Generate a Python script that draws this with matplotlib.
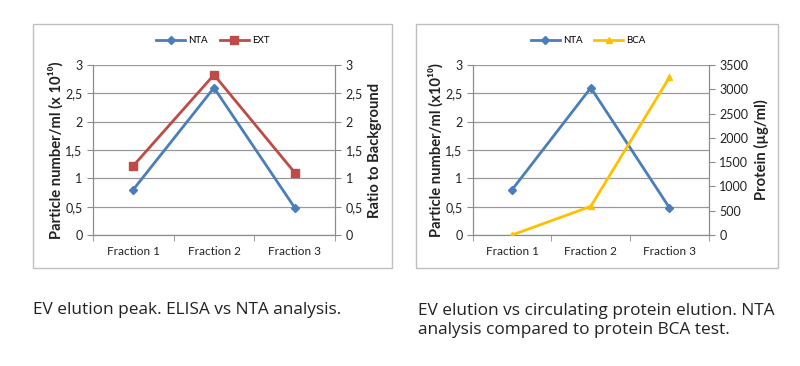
"""EV elution charts: NTA vs ELISA and NTA vs BCA protein."""

import matplotlib
matplotlib.use("Agg")
import matplotlib.pyplot as plt
import matplotlib.patches as mpatches
from matplotlib.ticker import FuncFormatter, FixedLocator

plt.rcParams["font.family"] = ["Lato", "DejaVu Sans"]

# ─── Data ─────────────────────────────────────────────────────────────────────
fractions = ["Fraction 1", "Fraction 2", "Fraction 3"]
nta_left = [0.8, 2.6, 0.48]
ext_ratio = [1.22, 2.83, 1.1]
nta_right = [0.8, 2.6, 0.48]
bca_protein = [0, 590, 3250]

captions = [
    "EV elution peak. ELISA vs NTA analysis.",
    "EV elution vs circulating protein elution. NTA\nanalysis compared to protein BCA test.",
]

# ─── Style ────────────────────────────────────────────────────────────────────
BLUE = "#4A7EBB"
RED = "#BE4B48"
YELLOW = "#FFC000"
GRID = "#999999"
AXIS = "#8C8C8C"
TEXT = "#222222"

comma = FuncFormatter(lambda v, _: f"{v:g}".replace(".", ","))


def style_axes(ax, ax2, ymax2, step2):
    x = range(len(fractions))
    ax.set_xlim(-0.5, len(fractions) - 0.5)
    ax.set_xticks(list(x))
    ax.set_xticklabels(fractions, fontsize=8.5, color=TEXT)
    ax.xaxis.set_minor_locator(FixedLocator([i - 0.5 for i in range(len(fractions) + 1)]))
    ax.tick_params(axis="x", which="major", length=0, pad=8)
    ax.tick_params(axis="x", which="minor", length=4, color=AXIS)
    ax.set_ylim(0, 3)
    ax.set_yticks([0, 0.5, 1, 1.5, 2, 2.5, 3])
    ax.yaxis.set_major_formatter(comma)
    ax.tick_params(axis="y", labelsize=9, color=AXIS, length=4, labelcolor=TEXT)
    ax.grid(axis="y", color=GRID, linewidth=0.9, zorder=0)
    ax.set_axisbelow(True)
    for a in (ax, ax2):
        a.spines["top"].set_visible(False)
        for side in ("left", "right", "bottom"):
            a.spines[side].set_color(AXIS)
    ax2.set_ylim(0, ymax2)
    ax2.set_yticks([i * step2 for i in range(int(round(ymax2 / step2)) + 1)])
    ax2.yaxis.set_major_formatter(comma)
    ax2.tick_params(axis="y", labelsize=9, color=AXIS, length=4, labelcolor=TEXT)


fig = plt.figure(figsize=(8, 3.66), dpi=100)
fig.patch.set_facecolor("white")

# chart borders
for x0, x1 in [(0.041, 0.49), (0.52, 0.9725)]:
    fig.add_artist(mpatches.Rectangle((x0, 0.268), x1 - x0, 0.666, transform=fig.transFigure,
                                      fill=False, edgecolor="#BFBFBF", linewidth=1))

# ─── Left chart ───────────────────────────────────────────────────────────────
ax1 = fig.add_axes([0.116, 0.358, 0.303, 0.464])
ax1b = ax1.twinx()
style_axes(ax1, ax1b, 3, 0.5)
x = list(range(len(fractions)))
l1, = ax1.plot(x, nta_left, color=BLUE, marker="D", markersize=4.5, linewidth=2, label="NTA", zorder=3)
l2, = ax1b.plot(x, ext_ratio, color=RED, marker="s", markersize=6, linewidth=2, label="EXT", zorder=3)
ax1.set_ylabel("Particle number/ml (x 10¹⁰)", fontsize=10.6, fontweight="bold", color=TEXT, labelpad=1)
ax1b.set_ylabel("Ratio to Background", fontsize=10.6, fontweight="bold", color=TEXT, labelpad=4)
fig.legend(handles=[l1, l2], loc="center", bbox_to_anchor=(0.266, 0.888), ncol=2, frameon=False,
           fontsize=7, handlelength=3, columnspacing=1.2, handletextpad=0.3)

# ─── Right chart ──────────────────────────────────────────────────────────────
ax2 = fig.add_axes([0.591, 0.358, 0.295, 0.464])
ax2b = ax2.twinx()
style_axes(ax2, ax2b, 3500, 500)
r1, = ax2.plot(x, nta_right, color=BLUE, marker="D", markersize=4.5, linewidth=2, label="NTA", zorder=3)
r2, = ax2b.plot(x, bca_protein, color=YELLOW, marker="^", markersize=5, linewidth=2, label="BCA", zorder=3)
ax2.set_ylabel("Particle number/ml (x10¹⁰)", fontsize=10.6, fontweight="bold", color=TEXT, labelpad=1)
ax2b.set_ylabel("Protein (µg/ml)", fontsize=10.6, fontweight="bold", color=TEXT, labelpad=4)
fig.legend(handles=[r1, r2], loc="center", bbox_to_anchor=(0.735, 0.888), ncol=2, frameon=False,
           fontsize=7, handlelength=3, columnspacing=1.2, handletextpad=0.3)

# ─── Captions ─────────────────────────────────────────────────────────────────
fig.text(0.041, 0.153, captions[0], fontsize=12.4, color=TEXT, va="center", family=["Open Sans", "DejaVu Sans"])
fig.text(0.522, 0.125, captions[1], fontsize=12.4, color=TEXT, va="center", linespacing=1.25,
         family=["Open Sans", "DejaVu Sans"])

fig.savefig("out.png", dpi=100, facecolor="white")
